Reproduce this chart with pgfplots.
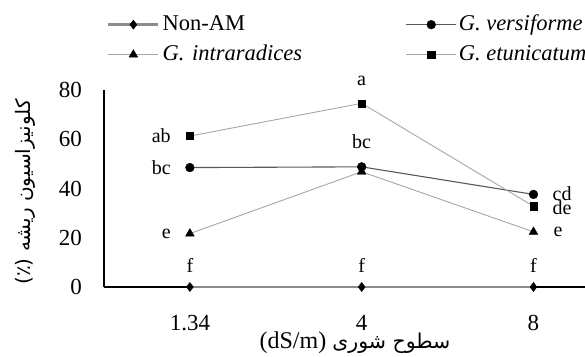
\documentclass[border=0pt]{standalone}
\usepackage{fontspec}
\setmainfont{Liberation Serif}
\newfontfamily\arabicfont[Script=Arabic]{DejaVu Sans}
\TeXXeTstate=1
\usepackage{pgfplots}
\pgfplotsset{compat=1.18}
\definecolor{nonam}{HTML}{8C8C8C}
\definecolor{vers}{HTML}{595959}
\definecolor{intra}{HTML}{A6A6A6}
\definecolor{etun}{HTML}{A6A6A6}
\begin{document}
\begin{tikzpicture}[x=1pt,y=1pt]
\path[use as bounding box] (0,0) rectangle (585,-356);
\begin{axis}[
  at={(104pt,-287pt)}, anchor=south west,
  scale only axis, width=481pt, height=197pt,
  xmin=-0.5, xmax=2.3, ymin=0, ymax=80,
  axis x line*=bottom, axis y line*=left,
  axis line style={black, line width=1.4pt},
  xtick={0,1,2}, xticklabels={1.34,4,8},
  ytick={0,20,40,60,80},
  major tick length=0pt,
  tick label style={font=\fontsize{23}{26}\selectfont},
  /pgf/number format/assume math mode=true,
  yticklabel style={inner sep=0pt, xshift=-22pt},
  xticklabel style={inner sep=0pt, yshift=-28pt},
  clip=false,
  legend columns=2,
  legend cell align=left,
  legend image code/.code={\draw[mark repeat=2,mark phase=2,#1] plot coordinates {(0pt,0pt) (25pt,0pt) (50pt,0pt)};},
  legend style={at={(0.006,1.386)}, anchor=north west, draw=none, fill=none,
    inner sep=0pt, row sep=9pt,
    font=\fontsize{22.5}{25}\selectfont,
    nodes={inner sep=0pt, font=\fontsize{22.5}{25}\selectfont, text height=16pt, text depth=5pt},
    /tikz/column 1/.style={column sep=3pt},
    /tikz/column 2/.style={column sep=0pt, nodes={text width=243pt, align=left}},
    /tikz/column 3/.style={column sep=2pt}},
]
\addplot[nonam, line width=2.6pt, mark=diamond*, mark size=4.6pt, mark options={solid, fill=black, draw=black, line width=0.4pt}]
  coordinates {(0,0) (1,0) (2,0)};
\addlegendentry{Non-AM}
\addplot[vers, line width=1.1pt, mark=*, mark size=4.4pt, mark options={solid, fill=black, draw=black, line width=0.4pt}]
  coordinates {(0,48.5) (1,48.8) (2,37.6)};
\addlegendentry{\textit{G. versiforme}}
\addplot[intra, line width=0.9pt, mark=triangle*, mark size=5pt, mark options={solid, fill=black, draw=black, line width=0.4pt}]
  coordinates {(0,21.7) (1,46.8) (2,22.4)};
\addlegendentry{\textit{G. intraradices}}
\addplot[etun, line width=0.9pt, mark=square*, mark size=3.6pt, mark options={solid, fill=black, draw=black, line width=0.4pt}]
  coordinates {(0,61.3) (1,74.6) (2,32.8)};
\addlegendentry{\textit{G. etunicatum}}
\begin{scope}[every node/.style={font=\fontsize{20}{24}\selectfont, inner sep=0pt}]
\node[anchor=east, xshift=-19pt] at (axis cs:0,61.3) {ab};
\node[anchor=east, xshift=-19pt] at (axis cs:0,48.5) {bc};
\node[anchor=east, xshift=-19pt] at (axis cs:0,21.7) {e};
\node[yshift=22pt] at (axis cs:0,0) {f};
\node[yshift=22pt] at (axis cs:1,74.6) {a};
\node[yshift=25pt] at (axis cs:1,48.8) {bc};
\node[yshift=22pt] at (axis cs:1,0) {f};
\node[anchor=west, xshift=19pt] at (axis cs:2,38.0) {cd};
\node[anchor=west, xshift=19pt] at (axis cs:2,32.2) {de};
\node[anchor=west, xshift=20pt] at (axis cs:2,22.4) {e};
\node[yshift=22pt] at (axis cs:2,0) {f};
\end{scope}
\end{axis}
\node[rotate=90, inner sep=0pt] at (25,-192) {\arabicfont\fontsize{20}{24}\selectfont (٪) \beginR کلونیزاسیون ریشه\endR};
\node[inner sep=0pt] at (355,-343) {\fontsize{24}{26}\selectfont (dS/m) {\arabicfont\fontsize{20.5}{22}\selectfont\beginR سطوح شوری\endR}};
\end{tikzpicture}
\end{document}
